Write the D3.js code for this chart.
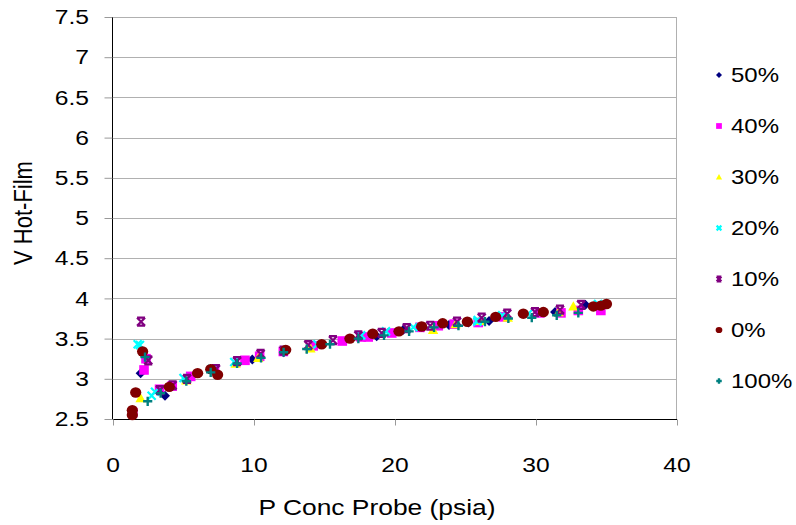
<!DOCTYPE html>
<html>
<head>
<meta charset="utf-8">
<script src="https://cdn.jsdelivr.net/npm/d3@7"></script>
<style>
  html, body { margin: 0; padding: 0; background: #fff; }
  svg { display: block; font-family: "Liberation Sans", Arial, sans-serif; }
</style>
</head>
<body>
<svg id="chart" width="796" height="525"></svg>
<script>
// series names (legend order)
const seriesNames = ["50%", "40%", "30%", "20%", "10%", "0%", "100%"];

// [P Conc Probe (psia), V Hot-Film]
const s50 = [[1.96, 3.07], [3.69, 2.79], [9.88, 3.24], [12.1, 3.33], [18.7, 3.53], [20.59, 3.61],
  [22.0, 3.64], [23.83, 3.67], [25.2, 3.7], [26.67, 3.72], [31.35, 3.83], [33.5, 3.92]];
const s40 = [[1.4, 2.58], [2.2, 3.11], [2.34, 3.25], [3.3, 2.87], [4.2, 2.91], [5.51, 3.03], [7.2, 3.12],
  [9.36, 3.23], [10.4, 3.28], [12.08, 3.34], [14.2, 3.41], [16.26, 3.47], [17.6, 3.52], [18.1, 3.52],
  [19.77, 3.57], [21.77, 3.64], [23.07, 3.66], [24.2, 3.68], [25.9, 3.7], [27.68, 3.77], [30.28, 3.82],
  [31.77, 3.82], [33.0, 3.85], [34.6, 3.85]];
const s30 = [[1.96, 2.76], [5.2, 2.98], [8.7, 3.19], [10.3, 3.26], [14.0, 3.38], [22.7, 3.61], [24.3, 3.68],
  [26.0, 3.72], [28.0, 3.76], [31.6, 3.83], [32.65, 3.9]];
const s20 = [[1.91, 3.42], [1.75, 3.43], [2.74, 2.79], [2.98, 2.84], [5.0, 3.01], [7.0, 3.12], [8.6, 3.21],
  [14.5, 3.43], [17.6, 3.54], [19.36, 3.59], [21.3, 3.64], [25.84, 3.71], [25.86, 3.73], [27.6, 3.79],
  [29.45, 3.81], [34.4, 3.93]];
const s10 = [[1.99, 3.71], [2.5, 3.23], [3.33, 2.86], [4.23, 2.92], [5.25, 3.0], [7.3, 3.12], [8.8, 3.22],
  [10.47, 3.31], [12.1, 3.35], [13.85, 3.42], [15.6, 3.48], [17.4, 3.54], [19.06, 3.57], [20.83, 3.63],
  [22.5, 3.66], [24.4, 3.71], [26.15, 3.76], [27.96, 3.81], [29.93, 3.83], [31.7, 3.86], [33.2, 3.92]];
const s0 = [[1.37, 2.61], [1.37, 2.55], [1.61, 2.83], [2.1, 3.34], [3.99, 2.9], [6.0, 3.07], [6.93, 3.12],
  [7.42, 3.05], [12.25, 3.36], [14.8, 3.43], [16.8, 3.5], [18.42, 3.56], [20.28, 3.59], [21.89, 3.65],
  [23.38, 3.69], [25.13, 3.71], [27.14, 3.77], [29.1, 3.81], [30.52, 3.83], [34.07, 3.9], [34.6, 3.91],
  [35.0, 3.93]];
const s100 = [[2.27, 3.27], [2.46, 2.72], [3.38, 2.82], [5.2, 2.97], [6.93, 3.08], [8.8, 3.19], [10.5, 3.26],
  [12.1, 3.33], [13.74, 3.37], [15.39, 3.43], [17.4, 3.5], [19.22, 3.54], [21.0, 3.59], [22.77, 3.64],
  [24.5, 3.66], [26.38, 3.71], [28.04, 3.75], [29.7, 3.76], [31.47, 3.79], [33.0, 3.82]];
const seriesData = [s50, s40, s30, s20, s10, s0, s100];

const xTicks = [0, 10, 20, 30, 40];
const yTicks = [2.5, 3, 3.5, 4, 4.5, 5, 5.5, 6, 6.5, 7, 7.5];

const styles = [
  { shape: "diamond", color: "#000080" },
  { shape: "square", color: "#ff00ff" },
  { shape: "triangle", color: "#ffff00" },
  { shape: "x", color: "#00ffff" },
  { shape: "star", color: "#800080" },
  { shape: "circle", color: "#800000" },
  { shape: "plus", color: "#008080" },
];

const svg = d3.select("#chart");
const x = d3.scaleLinear().domain([0, 40]).range([113, 677]);
const y = d3.scaleLinear().domain([2.5, 7.5]).range([419, 17]);
// the picture is a bit wider than tall, so text gets stretched sideways
const stretch = 1.2;

// gridlines
svg.append("g")
  .selectAll("line")
  .data(yTicks.filter((t) => t > 2.5))
  .join("line")
  .attr("x1", x(0)).attr("x2", x(40))
  .attr("y1", (d) => Math.round(y(d)) + 0.5).attr("y2", (d) => Math.round(y(d)) + 0.5)
  .attr("stroke", "#b0b0b0");

// right border
svg.append("line")
  .attr("x1", x(40) - 0.5).attr("x2", x(40) - 0.5)
  .attr("y1", y(7.5)).attr("y2", y(2.5))
  .attr("stroke", "#b0b0b0");

// axes (labels drawn separately below)
const yAxis = svg.append("g")
  .attr("transform", `translate(${x(0) - 0.5},0)`)
  .call(d3.axisLeft(y).tickValues(yTicks).tickSize(8).tickFormat(""));
const xAxis = svg.append("g")
  .attr("transform", `translate(0,${y(2.5) + 0.5})`)
  .call(d3.axisBottom(x).tickValues(xTicks).tickSize(6).tickFormat(""));

[yAxis, xAxis].forEach((a) => {
  a.select(".domain").attr("stroke", "#000");
  a.selectAll(".tick line").attr("stroke", "#999");
});
yAxis.select(".domain").attr("d", `M0,${y(7.5)}V${y(2.5) + 0.5}`);
xAxis.select(".domain").attr("d", `M${x(0)},0H${x(40)}`);

function label(px, py, text, size, anchor, extra) {
  return svg.append("text")
    .attr("transform", `translate(${px},${py}) scale(${stretch},1)${extra || ""}`)
    .attr("text-anchor", anchor)
    .attr("dy", "0.35em")
    .style("font-size", size + "px")
    .attr("fill", "#000")
    .text(text);
}

yTicks.forEach((t) => label(89, y(t), d3.format("")(t), 20.5, "end"));
xTicks.forEach((t) => label(x(t), 465, d3.format("d")(t), 20.5, "middle"));

// axis titles
label(377, 507, "P Conc Probe (psia)", 22, "middle");
label(23, 213, "V Hot-Film", 22, "middle", " rotate(-90)");

function drawMarker(sel, shape, color, s) {
  if (shape === "diamond") {
    sel.append("path").attr("d", `M0,${-s}L${s},0L0,${s}L${-s},0Z`).attr("fill", color);
  } else if (shape === "square") {
    sel.append("rect").attr("x", -s).attr("y", -s).attr("width", 2 * s).attr("height", 2 * s).attr("fill", color);
  } else if (shape === "triangle") {
    sel.append("path").attr("d", `M0,${-s}L${s},${s * 0.8}L${-s},${s * 0.8}Z`).attr("fill", color);
  } else if (shape === "x") {
    sel.append("path").attr("d", `M${-s},${-s}L${s},${s}M${-s},${s}L${s},${-s}`)
      .attr("stroke", color).attr("stroke-width", 2.2);
  } else if (shape === "star") {
    sel.append("path").attr("d", `M${-s},${-s}L${s},${s}M${-s},${s}L${s},${-s}M${-s},${-s}H${s}M${-s},${s}H${s}`)
      .attr("stroke", color).attr("stroke-width", 2.2);
  } else if (shape === "circle") {
    sel.append("ellipse").attr("rx", s * 1.08).attr("ry", s).attr("fill", color);
  } else if (shape === "plus") {
    sel.append("path").attr("d", `M${-s},0H${s}M0,${-s}V${s}`)
      .attr("stroke", color).attr("stroke-width", 2.4);
  }
}

const markerSize = { diamond: 5, square: 4.8, triangle: 5.2, x: 4, star: 4, circle: 5.2, plus: 4.6 };

// points
seriesData.forEach((data, i) => {
  const st = styles[i];
  svg.append("g")
    .selectAll("g")
    .data(data)
    .join("g")
    .attr("transform", (d) => `translate(${x(d[0])},${y(d[1])})`)
    .each(function () {
      drawMarker(d3.select(this), st.shape, st.color, markerSize[st.shape]);
    });
});

// legend
const legendY = d3.scalePoint().domain(seriesNames).range([75, 381]);
const legend = svg.append("g");
seriesNames.forEach((name, i) => {
  const cy = legendY(name);
  const row = legend.append("g").attr("transform", `translate(719,${cy})`);
  drawMarker(row, styles[i].shape, styles[i].color, markerSize[styles[i].shape] * 0.6);
  label(731, cy, name, 20, "start");
});
</script>
</body>
</html>
